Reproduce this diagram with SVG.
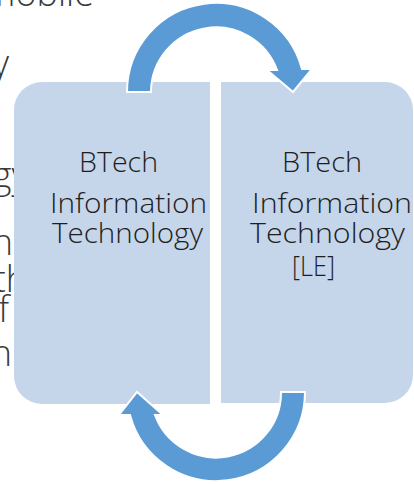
<svg xmlns="http://www.w3.org/2000/svg" width="414" height="485" viewBox="0 0 414 485">
<style>
.bg{font-family:"Open Sans","Liberation Sans",Arial,sans-serif;font-weight:300;font-size:36px;fill:#3a3a3a;}
.box{fill:#c5d5ea;}
.lbl{font-family:"Open Sans","Liberation Sans",Arial,sans-serif;font-weight:300;font-size:28px;fill:#1e1e1e;}
.arrow{fill:#5b9bd5;stroke:#ffffff;stroke-width:2;stroke-linejoin:miter;}
</style>
<rect width="414" height="485" fill="#ffffff"/>
<g id="background-text">
<text class="bg" x="94" y="6" text-anchor="end">mobile</text>
<text class="bg" x="9" y="76" text-anchor="end">y</text>
<text class="bg" x="28" y="188" text-anchor="end">gy</text>
<text class="bg" x="13" y="255" text-anchor="end">h</text>
<text class="bg" x="27" y="292" text-anchor="end">th</text>
<text class="bg" x="9" y="322" text-anchor="end">f</text>
<text class="bg" x="12" y="366" text-anchor="end">n</text>
</g>
<g id="node-btech-it">
<path class="box" d="M42,82 H210 V404 H42 A28,28 0 0 1 14,376 V110 A28,28 0 0 1 42,82 Z"/>
<text class="lbl" x="79" y="172" textLength="79" lengthAdjust="spacingAndGlyphs">BTech</text>
<text class="lbl" x="50" y="213" textLength="157" lengthAdjust="spacingAndGlyphs">Information</text>
<text class="lbl" x="52" y="243" textLength="151" lengthAdjust="spacingAndGlyphs">Technology</text>
</g>
<g id="node-btech-it-le">
<path class="box" d="M221,82 H385 A28,28 0 0 1 413,110 V375 A28,28 0 0 1 385,403 H221 Z"/>
<text class="lbl" x="282" y="172" textLength="80" lengthAdjust="spacingAndGlyphs">BTech</text>
<text class="lbl" x="252" y="213" textLength="160" lengthAdjust="spacingAndGlyphs">Information</text>
<text class="lbl" x="250" y="243" textLength="155" lengthAdjust="spacingAndGlyphs">Technology</text>
<text class="lbl" x="292" y="276" textLength="43" lengthAdjust="spacingAndGlyphs">[LE]</text>
</g>
<g id="connectors">
<path id="arrow-top" class="arrow" d="M127,92 A89,89 0 0 1 302,69 L312,69 L293,92 L267,70 L277,70 A65,65 0 0 0 151,92 Z"/>
<path id="arrow-bottom" class="arrow" d="M305,392 A89,89 0 0 1 130,415 L119,415 L137,392 L163,415 L155,415 A65,65 0 0 0 281,392 Z"/>
</g>
</svg>
